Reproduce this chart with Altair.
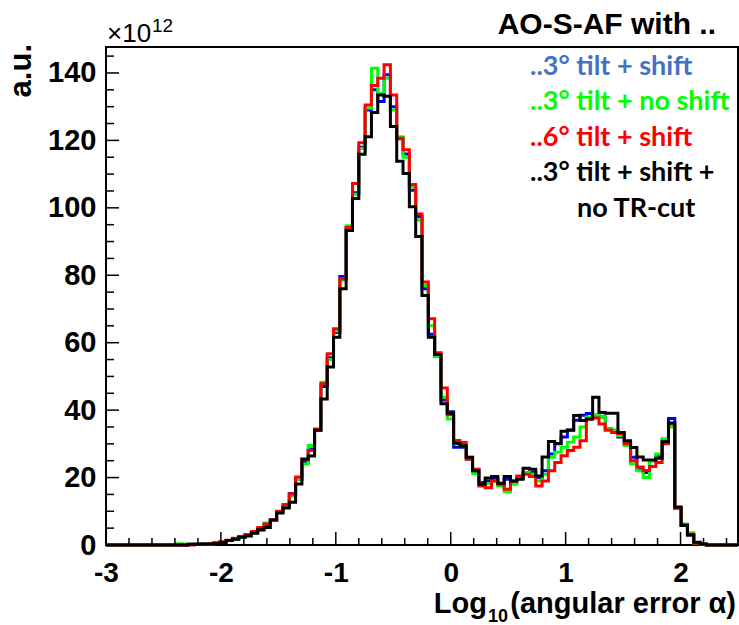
import altair as alt
import pandas as pd

# ---------------- data ----------------
X_MIN, X_MAX = -3.0, 2.5
N_BINS = 100
BIN_W = (X_MAX - X_MIN) / N_BINS

BLACK = [0, 0, 0, 0, 0, 0, 0, 0, 0, 0,
         0, 0, 0, 0.2, 0.2, 0.3, 0.3, 0.4, 0.6, 1.3,
         1.7, 2.3, 2.7, 3.5, 4.5, 5.2, 7.4, 9.5, 11.0, 12.7,
         18.1, 25.4, 26.4, 34.0, 43.3, 52.8, 61.6, 76.0, 93.3, 102.8,
         115.9, 121.1, 128.3, 133.5, 133.1, 124.1, 113.8, 110.2, 100.3, 91.5,
         74.0, 61.6, 56.5, 41.9, 39.1, 30.2, 29.4, 26.0, 22.0, 18.0,
         19.9, 20.3, 18.3, 20.3, 19.0, 19.5, 22.8, 22.5, 20.5, 26.1,
         30.7, 30.1, 33.7, 34.1, 38.4, 36.9, 37.4, 43.8, 39.3, 39.1,
         39.1, 33.4, 30.9, 28.9, 26.1, 25.2, 25.2, 25.7, 30.6, 36.2,
         11.3, 5.8, 3.0, 0.8, 0.3, 0, 0, 0, 0, 0]

RED = [0, 0, 0, 0, 0, 0, 0, 0, 0, 0,
       0, 0, 0, 0, 0.2, 0.2, 0.4, 0.7, 1.0, 1.4,
       2.0, 2.5, 3.1, 4.0, 5.2, 6.2, 7.5, 10.0, 12.0, 15.1,
       20.2, 25.5, 28.0, 34.4, 47.8, 56.7, 64.1, 79.0, 94.2, 107.2,
       119.3, 130.5, 136.3, 138.4, 142.4, 133.5, 120.6, 117.2, 106.9, 98.2,
       78.0, 67.1, 57.0, 46.6, 38.6, 31.0, 30.4, 25.4, 22.4, 17.5,
       17.0, 19.0, 18.0, 16.5, 19.0, 20.5, 21.0, 20.3, 17.5, 19.0,
       22.0, 24.5, 26.5, 28.0, 29.0, 30.9, 37.4, 37.7, 35.9, 34.0,
       33.4, 33.1, 30.0, 25.0, 23.1, 22.1, 23.3, 24.5, 30.0, 35.9,
       11.1, 6.0, 3.2, 0.6, 0.2, 0, 0, 0, 0, 0]

GREEN = [0, 0, 0, 0, 0, 0, 0, 0, 0, 0,
         0, 0.4, 0.2, 0.2, 0.2, 0.3, 0.3, 0.5, 0.8, 1.3,
         1.8, 2.4, 2.9, 3.6, 4.3, 6.5, 7.3, 9.8, 11.5, 14.5,
         19.5, 24.0, 29.5, 34.0, 48.3, 55.0, 63.5, 78.5, 94.7, 104.0,
         117.6, 129.5, 141.4, 134.0, 138.4, 129.0, 121.1, 115.0, 106.2, 96.4,
         77.0, 65.0, 56.0, 43.8, 37.4, 30.0, 29.5, 26.0, 21.2, 18.0,
         18.2, 19.0, 17.5, 15.8, 18.0, 20.0, 21.5, 21.0, 19.0, 21.0,
         26.0, 27.5, 29.0, 30.5, 32.0, 35.0, 38.0, 38.5, 38.0, 34.5,
         34.0, 32.5, 29.5, 24.0, 22.0, 20.0, 25.0, 27.0, 31.5, 35.0,
         11.0, 6.2, 3.6, 0.6, 0.2, 0, 0, 0, 0, 0]

BLUE = [0, 0, 0, 0, 0, 0, 0, 0, 0, 0,
        0, 0, 0, 0.2, 0.2, 0.3, 0.3, 0.5, 0.8, 1.3,
        1.8, 2.4, 3.0, 3.7, 4.6, 6.0, 7.4, 9.8, 11.5, 15.3,
        19.5, 24.5, 28.5, 34.0, 47.0, 55.5, 63.0, 79.6, 94.0, 104.5,
        118.0, 129.0, 135.0, 131.5, 139.5, 130.0, 120.5, 116.0, 105.2, 97.4,
        76.0, 62.5, 56.0, 43.0, 39.5, 29.0, 29.0, 25.5, 22.5, 18.5,
        19.0, 19.5, 18.0, 19.5, 18.5, 19.8, 21.5, 21.5, 20.0, 22.0,
        27.0, 30.0, 32.0, 34.0, 37.0, 38.5, 39.0, 38.5, 38.0, 34.5,
        34.0, 32.0, 30.0, 26.0, 22.5, 21.5, 25.0, 26.5, 31.0, 37.5,
        10.8, 5.8, 3.0, 0.7, 0.2, 0, 0, 0, 0, 0]

LEGEND_LABELS = ["..3° tilt + shift", "..3° tilt + no shift", "..6° tilt + shift",
                 "..3° tilt + shift +", "no TR-cut"]
LEGEND_COLORS = ["#4472C4", "#00FF00", "#FF0000", "#000000", "#000000"]
LINE_COLORS = ["#0000FF", "#00FF00", "#FF0000", "#000000"]  # blue, green, red, black

X_MAJOR = [-3, -2, -1, 0, 1, 2]
X_MINOR = [-2.8, -2.6, -2.4, -2.2, -1.8, -1.6, -1.4, -1.2, -0.8, -0.6, -0.4, -0.2,
           0.2, 0.4, 0.6, 0.8, 1.2, 1.4, 1.6, 1.8, 2.2, 2.4]
Y_MAJOR = [0, 20, 40, 60, 80, 100, 120, 140]
Y_MINOR = [5, 10, 15, 25, 30, 35, 45, 50, 55, 65, 70, 75, 85, 90, 95,
           105, 110, 115, 125, 130, 135, 145]
Y_MAX = 147.7

# ---------------- layout ----------------
W, H = 632, 498
PAD = {"left": 106, "top": 47, "right": 1, "bottom": 80}
FONT = "Liberation Sans"

x_scale = alt.Scale(domain=[X_MIN, X_MAX], nice=False, zero=False)
y_scale = alt.Scale(domain=[0, Y_MAX], nice=False, zero=False)

x_axis = alt.Axis(values=X_MAJOR, labelExpr="'' + datum.value", labelFont=FONT,
                  labelFontSize=28, labelFontWeight="bold", labelColor="black",
                  labelPadding=14, ticks=False, domain=False, grid=False, title=None,
                  labelFlush=False, labelOverlap=False)
y_axis = alt.Axis(values=Y_MAJOR, labelFont=FONT, labelFontSize=29, labelFontWeight="bold",
                  labelColor="black", labelPadding=10, ticks=False, domain=False,
                  grid=False, title=None, labelFlush=False, labelOverlap=False)

edges = [X_MIN + BIN_W * i for i in range(N_BINS)] + [X_MAX]


def hist_layer(vals, color):
    df = pd.DataFrame({"x": edges, "y": list(vals) + [vals[-1]]})
    return alt.Chart(df).mark_line(interpolate="step-after", color=color, strokeWidth=3,
                                   clip=False).encode(
        x=alt.X("x:Q", scale=x_scale, axis=x_axis),
        y=alt.Y("y:Q", scale=y_scale, axis=y_axis),
    )


def x_ticks(vals, length):
    df = pd.DataFrame({"v": vals})
    return alt.Chart(df).mark_rule(color="black", strokeWidth=1.5).encode(
        x=alt.X("v:Q", scale=x_scale, axis=x_axis),
        y=alt.value(H), y2=alt.value(H - length))


def y_ticks(vals, length):
    df = pd.DataFrame({"v": vals})
    return alt.Chart(df).mark_rule(color="black", strokeWidth=1.5).encode(
        y=alt.Y("v:Q", scale=y_scale, axis=y_axis),
        x=alt.value(0), x2=alt.value(length))


def text(t, x, y, size, color="black", weight="bold", font=FONT, align="left",
         baseline="alphabetic", angle=0):
    df = pd.DataFrame({"t": [t]})
    return alt.Chart(df).mark_text(align=align, baseline=baseline, font=font, fontSize=size,
                                   fontWeight=weight, color=color, angle=angle).encode(
        text="t:N", x=alt.value(x), y=alt.value(y))


layers = [
    hist_layer(BLUE, LINE_COLORS[0]),
    hist_layer(GREEN, LINE_COLORS[1]),
    hist_layer(RED, LINE_COLORS[2]),
    hist_layer(BLACK, LINE_COLORS[3]),
    x_ticks(X_MAJOR, 13), x_ticks(X_MINOR, 7),
    y_ticks(Y_MAJOR, 13), y_ticks(Y_MINOR, 8),
    # title and exponent
    text("AO-S-AF with ..", 610, -13, 30, align="right"),
    text("×10", 1, -5, 26, weight="normal"),
    text("12", 46, -15, 19, weight="normal"),
    # axis titles
    text("a.u.", -84, -3, 31, align="right", baseline="middle", angle=270),
    text("Log", 381, 566, 29, align="right"),
    text("10", 382, 575, 18),
    text("(angular error α)", 630, 566, 29, align="right"),
]

legend_y = [28, 63, 99, 134, 170]
legend_x = [424, 424, 424, 424, 471]
for lab, col, lx, ly in zip(LEGEND_LABELS, LEGEND_COLORS, legend_x, legend_y):
    layers.append(text(lab, lx, ly, 27, color=col, font="Lato"))

chart = alt.layer(*layers).properties(
    width=W, height=H, padding=PAD,
    autosize=alt.AutoSizeParams(type="none"),
    background="white",
).configure_view(stroke="black", strokeWidth=2)

chart.save("out.html", embed_options={"renderer": "svg", "actions": False})
